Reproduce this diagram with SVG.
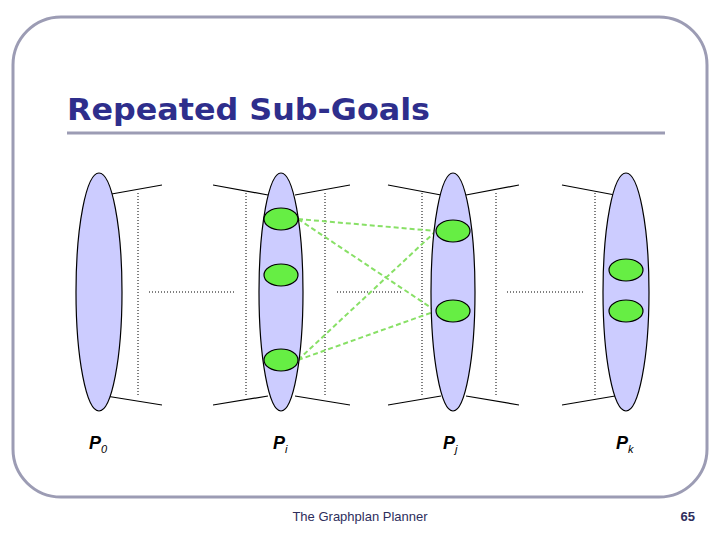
<svg xmlns="http://www.w3.org/2000/svg" width="720" height="540" viewBox="0 0 720 540">
<style>
.big{fill:#ccccff;stroke:#000;stroke-width:1.2}
.g{fill:#66ee44;stroke:#000;stroke-width:1.2}
.bl{stroke:#000;stroke-width:1.2;fill:none}
.dt{stroke:#000;stroke-width:1;stroke-dasharray:1 2;fill:none}
.gd{stroke:#88e066;stroke-width:2;stroke-dasharray:5 3;fill:none}
.lab{font-family:"Liberation Sans",Arial,sans-serif;font-style:italic;font-weight:bold;font-size:18px}
.sub{font-size:11px;font-weight:normal}
</style>
<rect x="13" y="17" width="694" height="480" rx="48" fill="#fff" stroke="#9c9cb4" stroke-width="3"/>
<text x="67" y="120" font-family="DejaVu Sans,Liberation Sans,sans-serif" font-weight="bold" font-size="30" fill="#2e2e8c" textLength="363" lengthAdjust="spacingAndGlyphs">Repeated Sub-Goals</text>
<line x1="67" y1="133" x2="665" y2="133" stroke="#9c9cb4" stroke-width="3"/>
<g id="connectors">
<path class="bl" d="M106 195L162 185M106 396L162 405M213 185L268 195M213 405L268 396M295 195L350 185M295 396L350 405M388 185L441 195M388 405L441 396M466 195L519 185M466 396L519 405M562 185L615 195M562 405L615 396"/>
<path class="dt" d="M138 193V395M246 193V395M325 193V395M422 193V395M496 193V395M595 193V395M149 292H235M337 292H402M507 292H585"/>
<path class="gd" d="M298 219L436 231M298 219L436 311M298 360L436 231M298 360L436 311"/>
</g>
<g id="P0"><ellipse class="big" cx="99" cy="292" rx="23" ry="119"/>
<text class="lab" x="89" y="449">P<tspan class="sub" dy="4">0</tspan></text></g>
<g id="Pi"><ellipse class="big" cx="281" cy="292" rx="22" ry="119"/>
<ellipse class="g" cx="281" cy="219" rx="17" ry="11"/><ellipse class="g" cx="281" cy="275" rx="17" ry="11"/><ellipse class="g" cx="281" cy="360" rx="17" ry="11"/>
<text class="lab" x="273" y="449">P<tspan class="sub" dy="4">i</tspan></text></g>
<g id="Pj"><ellipse class="big" cx="453" cy="292" rx="22" ry="119"/>
<ellipse class="g" cx="453" cy="231" rx="17" ry="11"/><ellipse class="g" cx="453" cy="311" rx="17" ry="11"/>
<text class="lab" x="443" y="449">P<tspan class="sub" dy="4">j</tspan></text></g>
<g id="Pk"><ellipse class="big" cx="626" cy="292" rx="23" ry="119"/>
<ellipse class="g" cx="626" cy="270" rx="17" ry="11"/><ellipse class="g" cx="626" cy="311" rx="17" ry="11"/>
<text class="lab" x="616" y="449">P<tspan class="sub" dy="4">k</tspan></text></g>
<text x="360" y="521" text-anchor="middle" font-family="Liberation Sans,Arial,sans-serif" font-size="13" fill="#2e2e5c">The Graphplan Planner</text>
<text x="695" y="521" text-anchor="end" font-family="Liberation Sans,Arial,sans-serif" font-weight="bold" font-size="13" fill="#2e2e5c">65</text>
</svg>
